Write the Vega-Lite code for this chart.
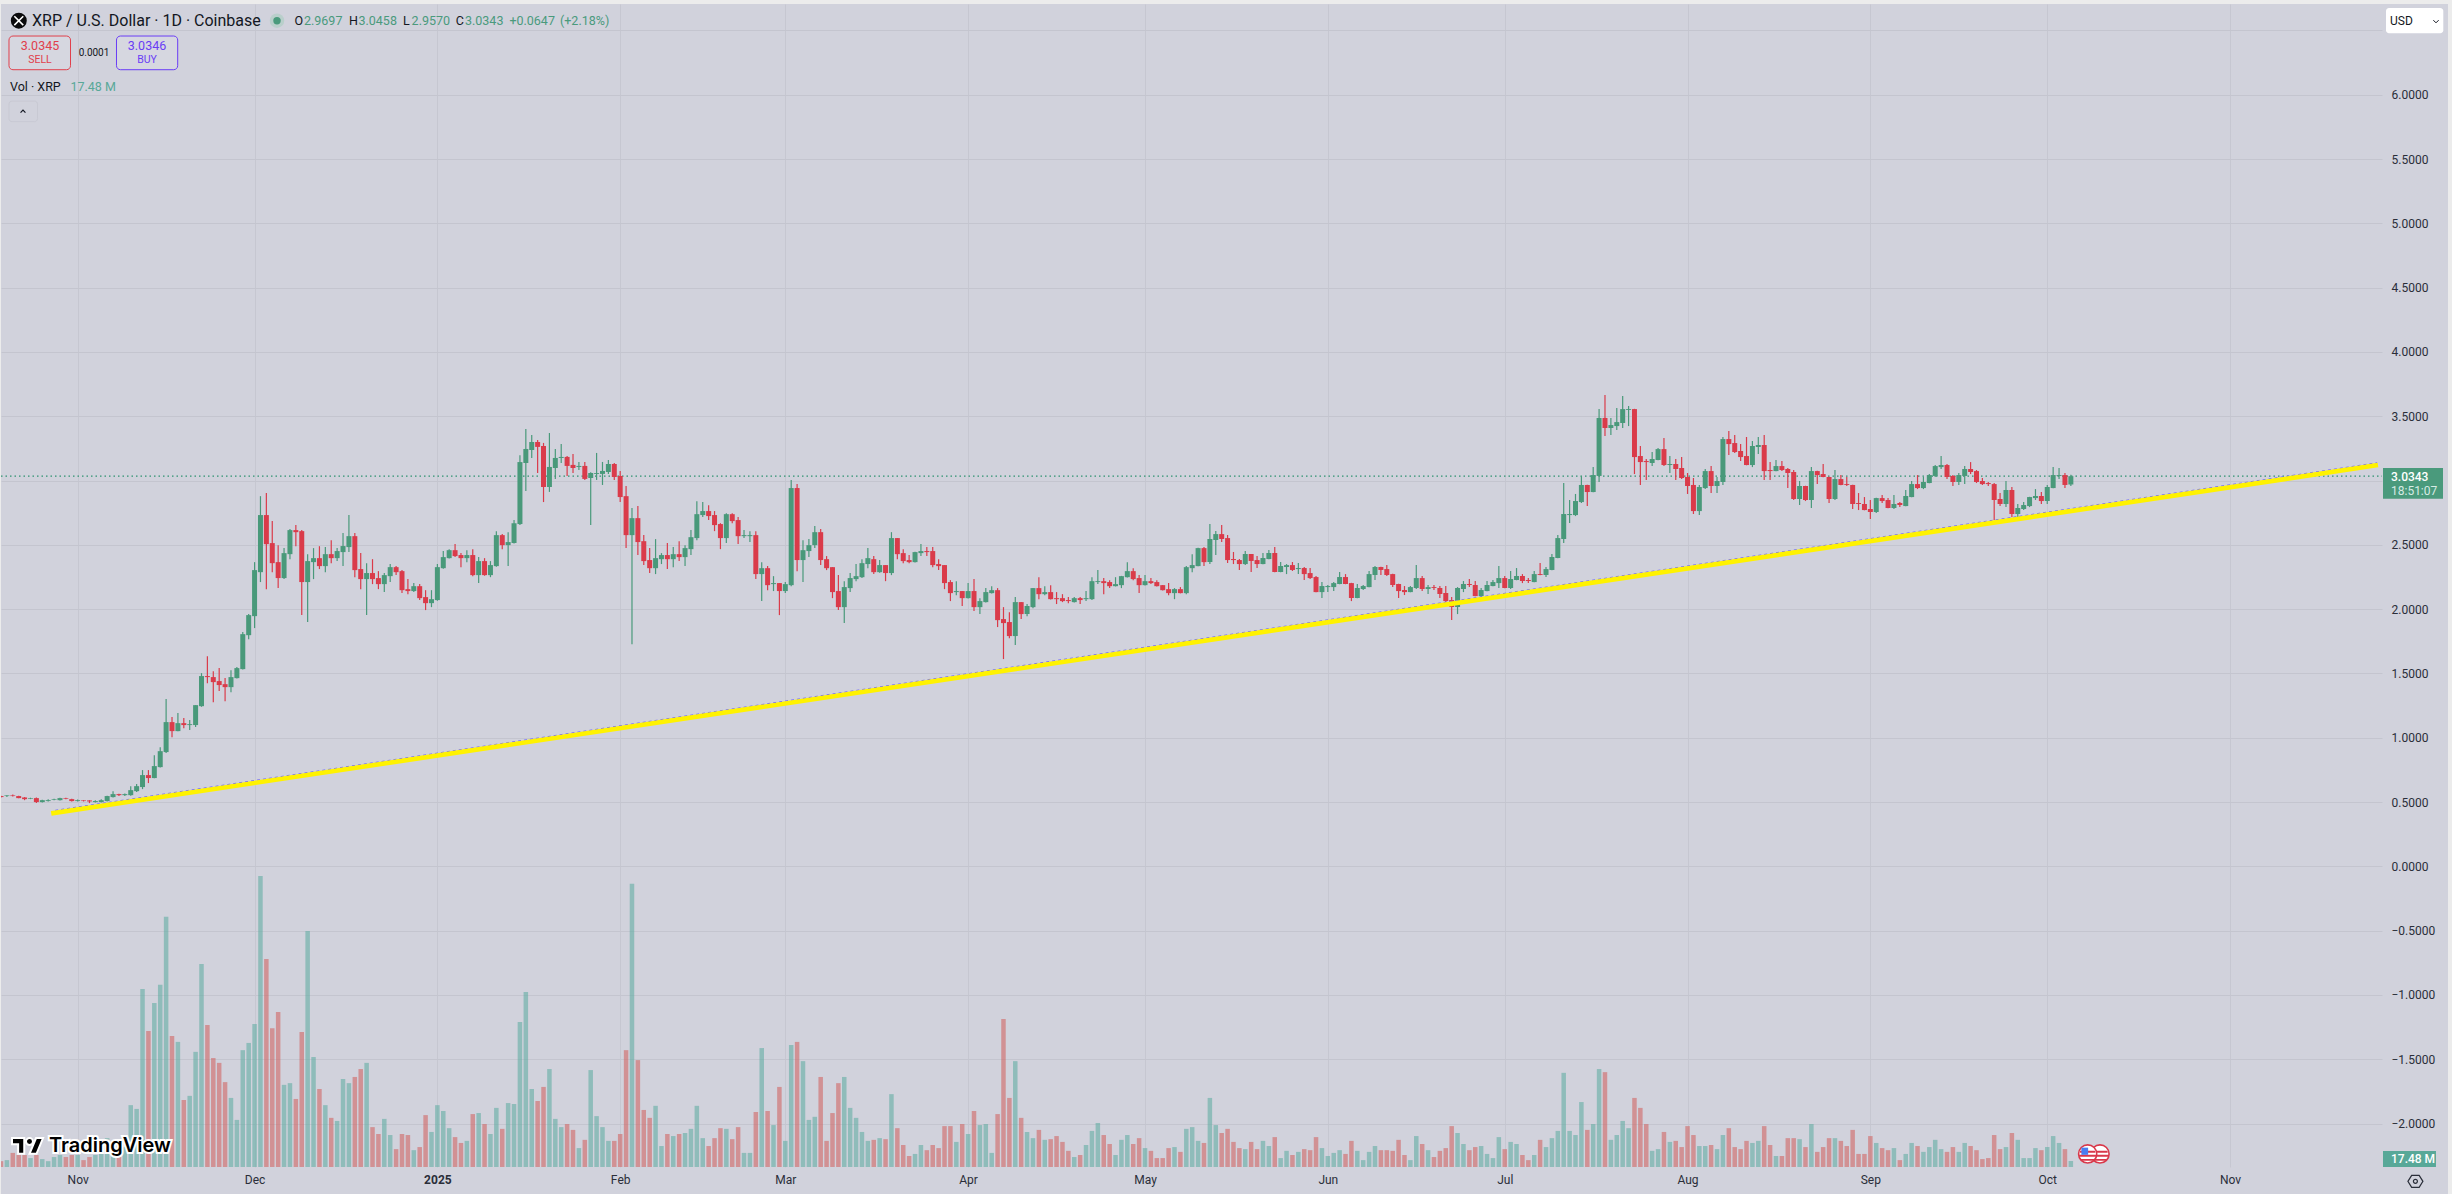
{
"$schema":"https://vega.github.io/schema/vega-lite/v6.json",
"description":"XRP / U.S. Dollar 1D candles with volume and a rising trendline",
"width":2381,"height":1163,
"autosize":{"type":"none"},
"padding":{"left":1,"top":4,"right":70,"bottom":27},
"background":"#d1d2dc",
"config":{"view":{"stroke":null},"font":"Roboto","text":{"font":"Roboto"}},
"datasets":{
"candles":[
{"t":"2024-10-19","o":0.547,"h":0.549,"l":0.535,"c":0.539,"v":17},
{"t":"2024-10-20","o":0.547,"h":0.554,"l":0.539,"c":0.552,"v":20},
{"t":"2024-10-21","o":0.552,"h":0.559,"l":0.544,"c":0.547,"v":41},
{"t":"2024-10-22","o":0.547,"h":0.549,"l":0.529,"c":0.531,"v":35},
{"t":"2024-10-23","o":0.536,"h":0.539,"l":0.515,"c":0.523,"v":35},
{"t":"2024-10-24","o":0.526,"h":0.534,"l":0.523,"c":0.531,"v":26},
{"t":"2024-10-25","o":0.531,"h":0.536,"l":0.492,"c":0.5,"v":35},
{"t":"2024-10-26","o":0.5,"h":0.518,"l":0.497,"c":0.515,"v":23},
{"t":"2024-10-27","o":0.508,"h":0.523,"l":0.505,"c":0.515,"v":17},
{"t":"2024-10-28","o":0.518,"h":0.526,"l":0.515,"c":0.523,"v":29},
{"t":"2024-10-29","o":0.515,"h":0.534,"l":0.513,"c":0.531,"v":35},
{"t":"2024-10-30","o":0.531,"h":0.534,"l":0.523,"c":0.526,"v":29},
{"t":"2024-10-31","o":0.523,"h":0.526,"l":0.505,"c":0.508,"v":35},
{"t":"2024-11-01","o":0.508,"h":0.521,"l":0.505,"c":0.515,"v":35},
{"t":"2024-11-02","o":0.513,"h":0.515,"l":0.505,"c":0.508,"v":20},
{"t":"2024-11-03","o":0.513,"h":0.515,"l":0.492,"c":0.505,"v":29},
{"t":"2024-11-04","o":0.5,"h":0.515,"l":0.497,"c":0.508,"v":35},
{"t":"2024-11-05","o":0.5,"h":0.523,"l":0.497,"c":0.515,"v":41},
{"t":"2024-11-06","o":0.508,"h":0.549,"l":0.505,"c":0.547,"v":84},
{"t":"2024-11-07","o":0.539,"h":0.585,"l":0.536,"c":0.562,"v":58},
{"t":"2024-11-08","o":0.562,"h":0.565,"l":0.547,"c":0.554,"v":29},
{"t":"2024-11-09","o":0.554,"h":0.567,"l":0.547,"c":0.562,"v":58},
{"t":"2024-11-10","o":0.554,"h":0.624,"l":0.549,"c":0.593,"v":180},
{"t":"2024-11-11","o":0.585,"h":0.64,"l":0.578,"c":0.624,"v":169},
{"t":"2024-11-12","o":0.617,"h":0.749,"l":0.601,"c":0.71,"v":518},
{"t":"2024-11-13","o":0.71,"h":0.749,"l":0.648,"c":0.687,"v":396},
{"t":"2024-11-14","o":0.687,"h":0.865,"l":0.685,"c":0.78,"v":477},
{"t":"2024-11-15","o":0.772,"h":0.927,"l":0.769,"c":0.896,"v":530},
{"t":"2024-11-16","o":0.889,"h":1.301,"l":0.881,"c":1.122,"v":728},
{"t":"2024-11-17","o":1.122,"h":1.161,"l":1.005,"c":1.052,"v":381},
{"t":"2024-11-18","o":1.052,"h":1.192,"l":1.05,"c":1.114,"v":364},
{"t":"2024-11-19","o":1.114,"h":1.153,"l":1.075,"c":1.099,"v":195},
{"t":"2024-11-20","o":1.099,"h":1.138,"l":1.06,"c":1.106,"v":207},
{"t":"2024-11-21","o":1.099,"h":1.254,"l":1.083,"c":1.254,"v":335},
{"t":"2024-11-22","o":1.246,"h":1.503,"l":1.241,"c":1.48,"v":591},
{"t":"2024-11-23","o":1.48,"h":1.635,"l":1.425,"c":1.472,"v":413},
{"t":"2024-11-24","o":1.472,"h":1.518,"l":1.277,"c":1.433,"v":317},
{"t":"2024-11-25","o":1.441,"h":1.542,"l":1.363,"c":1.41,"v":303},
{"t":"2024-11-26","o":1.417,"h":1.464,"l":1.285,"c":1.394,"v":247},
{"t":"2024-11-27","o":1.394,"h":1.526,"l":1.355,"c":1.472,"v":201},
{"t":"2024-11-28","o":1.464,"h":1.55,"l":1.461,"c":1.542,"v":137},
{"t":"2024-11-29","o":1.534,"h":1.822,"l":1.531,"c":1.806,"v":340},
{"t":"2024-11-30","o":1.798,"h":1.962,"l":1.767,"c":1.954,"v":361},
{"t":"2024-12-01","o":1.946,"h":2.366,"l":1.853,"c":2.304,"v":416},
{"t":"2024-12-02","o":2.288,"h":2.879,"l":2.211,"c":2.732,"v":847},
{"t":"2024-12-03","o":2.732,"h":2.903,"l":2.156,"c":2.506,"v":605},
{"t":"2024-12-04","o":2.514,"h":2.685,"l":2.288,"c":2.358,"v":404},
{"t":"2024-12-05","o":2.366,"h":2.498,"l":2.164,"c":2.242,"v":451},
{"t":"2024-12-06","o":2.242,"h":2.475,"l":2.234,"c":2.436,"v":239},
{"t":"2024-12-07","o":2.428,"h":2.623,"l":2.389,"c":2.615,"v":244},
{"t":"2024-12-08","o":2.615,"h":2.654,"l":2.49,"c":2.599,"v":198},
{"t":"2024-12-09","o":2.607,"h":2.615,"l":1.954,"c":2.211,"v":393},
{"t":"2024-12-10","o":2.211,"h":2.428,"l":1.9,"c":2.374,"v":687},
{"t":"2024-12-11","o":2.366,"h":2.475,"l":2.234,"c":2.397,"v":320},
{"t":"2024-12-12","o":2.397,"h":2.49,"l":2.312,"c":2.335,"v":227},
{"t":"2024-12-13","o":2.335,"h":2.483,"l":2.288,"c":2.428,"v":180},
{"t":"2024-12-14","o":2.428,"h":2.537,"l":2.358,"c":2.397,"v":143},
{"t":"2024-12-15","o":2.397,"h":2.475,"l":2.374,"c":2.452,"v":134},
{"t":"2024-12-16","o":2.444,"h":2.592,"l":2.335,"c":2.491,"v":256},
{"t":"2024-12-17","o":2.483,"h":2.732,"l":2.444,"c":2.568,"v":244},
{"t":"2024-12-18","o":2.568,"h":2.592,"l":2.249,"c":2.304,"v":262},
{"t":"2024-12-19","o":2.312,"h":2.436,"l":2.156,"c":2.234,"v":285},
{"t":"2024-12-20","o":2.234,"h":2.358,"l":1.954,"c":2.281,"v":303},
{"t":"2024-12-21","o":2.281,"h":2.389,"l":2.195,"c":2.234,"v":116},
{"t":"2024-12-22","o":2.242,"h":2.296,"l":2.156,"c":2.195,"v":96},
{"t":"2024-12-23","o":2.195,"h":2.281,"l":2.133,"c":2.265,"v":140},
{"t":"2024-12-24","o":2.257,"h":2.351,"l":2.211,"c":2.327,"v":93},
{"t":"2024-12-25","o":2.327,"h":2.335,"l":2.265,"c":2.288,"v":52},
{"t":"2024-12-26","o":2.296,"h":2.304,"l":2.125,"c":2.148,"v":96},
{"t":"2024-12-27","o":2.156,"h":2.234,"l":2.117,"c":2.141,"v":93},
{"t":"2024-12-28","o":2.141,"h":2.203,"l":2.133,"c":2.179,"v":49},
{"t":"2024-12-29","o":2.179,"h":2.195,"l":2.071,"c":2.086,"v":58},
{"t":"2024-12-30","o":2.094,"h":2.148,"l":1.993,"c":2.047,"v":151},
{"t":"2024-12-31","o":2.047,"h":2.148,"l":2.016,"c":2.078,"v":102},
{"t":"2025-01-01","o":2.071,"h":2.351,"l":2.065,"c":2.327,"v":180},
{"t":"2025-01-02","o":2.319,"h":2.452,"l":2.315,"c":2.405,"v":163},
{"t":"2025-01-03","o":2.397,"h":2.467,"l":2.394,"c":2.459,"v":113},
{"t":"2025-01-04","o":2.459,"h":2.506,"l":2.405,"c":2.413,"v":87},
{"t":"2025-01-05","o":2.421,"h":2.436,"l":2.327,"c":2.397,"v":70},
{"t":"2025-01-06","o":2.397,"h":2.459,"l":2.366,"c":2.421,"v":76},
{"t":"2025-01-07","o":2.421,"h":2.467,"l":2.257,"c":2.265,"v":154},
{"t":"2025-01-08","o":2.265,"h":2.405,"l":2.203,"c":2.374,"v":157},
{"t":"2025-01-09","o":2.374,"h":2.397,"l":2.26,"c":2.265,"v":125},
{"t":"2025-01-10","o":2.265,"h":2.374,"l":2.249,"c":2.343,"v":96},
{"t":"2025-01-11","o":2.335,"h":2.607,"l":2.33,"c":2.576,"v":172},
{"t":"2025-01-12","o":2.576,"h":2.584,"l":2.467,"c":2.498,"v":111},
{"t":"2025-01-13","o":2.498,"h":2.599,"l":2.335,"c":2.522,"v":186},
{"t":"2025-01-14","o":2.514,"h":2.693,"l":2.51,"c":2.669,"v":183},
{"t":"2025-01-15","o":2.662,"h":3.198,"l":2.654,"c":3.144,"v":422},
{"t":"2025-01-16","o":3.137,"h":3.402,"l":2.919,"c":3.246,"v":509},
{"t":"2025-01-17","o":3.238,"h":3.355,"l":3.176,"c":3.3,"v":227},
{"t":"2025-01-18","o":3.3,"h":3.316,"l":3.059,"c":3.262,"v":192},
{"t":"2025-01-19","o":3.269,"h":3.293,"l":2.833,"c":2.95,"v":233},
{"t":"2025-01-20","o":2.95,"h":3.37,"l":2.912,"c":3.106,"v":285},
{"t":"2025-01-21","o":3.098,"h":3.246,"l":3.013,"c":3.176,"v":140},
{"t":"2025-01-22","o":3.176,"h":3.285,"l":3.137,"c":3.184,"v":116},
{"t":"2025-01-23","o":3.184,"h":3.192,"l":3.036,"c":3.114,"v":125},
{"t":"2025-01-24","o":3.122,"h":3.207,"l":3.059,"c":3.098,"v":108},
{"t":"2025-01-25","o":3.106,"h":3.145,"l":3.083,"c":3.114,"v":55},
{"t":"2025-01-26","o":3.114,"h":3.145,"l":3.005,"c":3.013,"v":79},
{"t":"2025-01-27","o":3.02,"h":3.065,"l":2.654,"c":3.059,"v":282},
{"t":"2025-01-28","o":3.052,"h":3.215,"l":3.005,"c":3.059,"v":148},
{"t":"2025-01-29","o":3.052,"h":3.145,"l":2.966,"c":3.075,"v":116},
{"t":"2025-01-30","o":3.067,"h":3.16,"l":3.052,"c":3.129,"v":76},
{"t":"2025-01-31","o":3.129,"h":3.137,"l":3.005,"c":3.028,"v":76},
{"t":"2025-02-01","o":3.036,"h":3.075,"l":2.833,"c":2.872,"v":96},
{"t":"2025-02-02","o":2.879,"h":2.957,"l":2.475,"c":2.576,"v":340},
{"t":"2025-02-03","o":2.576,"h":2.786,"l":1.728,"c":2.708,"v":824},
{"t":"2025-02-04","o":2.708,"h":2.802,"l":2.421,"c":2.522,"v":311},
{"t":"2025-02-05","o":2.529,"h":2.576,"l":2.343,"c":2.374,"v":166},
{"t":"2025-02-06","o":2.382,"h":2.475,"l":2.281,"c":2.319,"v":143},
{"t":"2025-02-07","o":2.319,"h":2.545,"l":2.273,"c":2.397,"v":178},
{"t":"2025-02-08","o":2.389,"h":2.436,"l":2.351,"c":2.421,"v":61},
{"t":"2025-02-09","o":2.421,"h":2.514,"l":2.312,"c":2.389,"v":96},
{"t":"2025-02-10","o":2.389,"h":2.483,"l":2.327,"c":2.428,"v":90},
{"t":"2025-02-11","o":2.428,"h":2.529,"l":2.374,"c":2.405,"v":96},
{"t":"2025-02-12","o":2.405,"h":2.498,"l":2.335,"c":2.475,"v":99},
{"t":"2025-02-13","o":2.467,"h":2.615,"l":2.421,"c":2.56,"v":111},
{"t":"2025-02-14","o":2.553,"h":2.84,"l":2.537,"c":2.739,"v":178},
{"t":"2025-02-15","o":2.732,"h":2.833,"l":2.716,"c":2.763,"v":84},
{"t":"2025-02-16","o":2.763,"h":2.809,"l":2.693,"c":2.724,"v":61},
{"t":"2025-02-17","o":2.732,"h":2.763,"l":2.607,"c":2.654,"v":84},
{"t":"2025-02-18","o":2.662,"h":2.669,"l":2.467,"c":2.553,"v":113},
{"t":"2025-02-19","o":2.553,"h":2.747,"l":2.514,"c":2.739,"v":111},
{"t":"2025-02-20","o":2.739,"h":2.747,"l":2.669,"c":2.685,"v":81},
{"t":"2025-02-21","o":2.693,"h":2.716,"l":2.506,"c":2.568,"v":116},
{"t":"2025-02-22","o":2.568,"h":2.615,"l":2.553,"c":2.576,"v":41},
{"t":"2025-02-23","o":2.568,"h":2.607,"l":2.522,"c":2.576,"v":41},
{"t":"2025-02-24","o":2.576,"h":2.607,"l":2.234,"c":2.273,"v":160},
{"t":"2025-02-25","o":2.273,"h":2.366,"l":2.063,"c":2.319,"v":346},
{"t":"2025-02-26","o":2.319,"h":2.335,"l":2.148,"c":2.187,"v":163},
{"t":"2025-02-27","o":2.195,"h":2.257,"l":2.141,"c":2.203,"v":122},
{"t":"2025-02-28","o":2.203,"h":2.203,"l":1.954,"c":2.141,"v":233},
{"t":"2025-03-01","o":2.141,"h":2.211,"l":2.125,"c":2.195,"v":76},
{"t":"2025-03-02","o":2.187,"h":3.004,"l":2.179,"c":2.942,"v":355},
{"t":"2025-03-03","o":2.942,"h":2.973,"l":2.296,"c":2.382,"v":364},
{"t":"2025-03-04","o":2.382,"h":2.537,"l":2.211,"c":2.459,"v":308},
{"t":"2025-03-05","o":2.452,"h":2.545,"l":2.405,"c":2.498,"v":137},
{"t":"2025-03-06","o":2.498,"h":2.646,"l":2.475,"c":2.599,"v":146},
{"t":"2025-03-07","o":2.599,"h":2.623,"l":2.343,"c":2.382,"v":262},
{"t":"2025-03-08","o":2.389,"h":2.413,"l":2.304,"c":2.319,"v":76},
{"t":"2025-03-09","o":2.327,"h":2.327,"l":2.086,"c":2.133,"v":157},
{"t":"2025-03-10","o":2.141,"h":2.265,"l":1.993,"c":2.016,"v":244},
{"t":"2025-03-11","o":2.016,"h":2.218,"l":1.892,"c":2.172,"v":262},
{"t":"2025-03-12","o":2.164,"h":2.281,"l":2.133,"c":2.242,"v":172},
{"t":"2025-03-13","o":2.234,"h":2.351,"l":2.218,"c":2.257,"v":143},
{"t":"2025-03-14","o":2.249,"h":2.389,"l":2.242,"c":2.358,"v":102},
{"t":"2025-03-15","o":2.351,"h":2.475,"l":2.319,"c":2.397,"v":76},
{"t":"2025-03-16","o":2.389,"h":2.413,"l":2.273,"c":2.288,"v":79},
{"t":"2025-03-17","o":2.288,"h":2.382,"l":2.283,"c":2.343,"v":84},
{"t":"2025-03-18","o":2.343,"h":2.343,"l":2.218,"c":2.281,"v":81},
{"t":"2025-03-19","o":2.281,"h":2.599,"l":2.265,"c":2.553,"v":212},
{"t":"2025-03-20","o":2.553,"h":2.553,"l":2.389,"c":2.428,"v":113},
{"t":"2025-03-21","o":2.436,"h":2.467,"l":2.358,"c":2.374,"v":64},
{"t":"2025-03-22","o":2.382,"h":2.421,"l":2.358,"c":2.366,"v":32},
{"t":"2025-03-23","o":2.366,"h":2.446,"l":2.364,"c":2.444,"v":38},
{"t":"2025-03-24","o":2.436,"h":2.506,"l":2.413,"c":2.452,"v":64},
{"t":"2025-03-25","o":2.452,"h":2.483,"l":2.413,"c":2.444,"v":49},
{"t":"2025-03-26","o":2.452,"h":2.483,"l":2.327,"c":2.343,"v":64},
{"t":"2025-03-27","o":2.351,"h":2.389,"l":2.304,"c":2.335,"v":55},
{"t":"2025-03-28","o":2.343,"h":2.343,"l":2.156,"c":2.203,"v":119},
{"t":"2025-03-29","o":2.211,"h":2.226,"l":2.063,"c":2.125,"v":119},
{"t":"2025-03-30","o":2.133,"h":2.218,"l":2.109,"c":2.141,"v":73},
{"t":"2025-03-31","o":2.141,"h":2.141,"l":2.024,"c":2.086,"v":125},
{"t":"2025-04-01","o":2.086,"h":2.203,"l":2.084,"c":2.141,"v":96},
{"t":"2025-04-02","o":2.141,"h":2.234,"l":1.985,"c":2.016,"v":163},
{"t":"2025-04-03","o":2.016,"h":2.086,"l":1.962,"c":2.063,"v":122},
{"t":"2025-04-04","o":2.055,"h":2.164,"l":2.053,"c":2.133,"v":125},
{"t":"2025-04-05","o":2.125,"h":2.179,"l":2.123,"c":2.148,"v":41},
{"t":"2025-04-06","o":2.148,"h":2.164,"l":1.861,"c":1.915,"v":154},
{"t":"2025-04-07","o":1.923,"h":2.016,"l":1.612,"c":1.892,"v":431},
{"t":"2025-04-08","o":1.9,"h":1.977,"l":1.775,"c":1.791,"v":201},
{"t":"2025-04-09","o":1.791,"h":2.094,"l":1.721,"c":2.055,"v":308},
{"t":"2025-04-10","o":2.055,"h":2.055,"l":1.923,"c":1.962,"v":143},
{"t":"2025-04-11","o":1.962,"h":2.04,"l":1.946,"c":2.024,"v":102},
{"t":"2025-04-12","o":2.016,"h":2.164,"l":2.008,"c":2.164,"v":84},
{"t":"2025-04-13","o":2.164,"h":2.249,"l":2.078,"c":2.117,"v":108},
{"t":"2025-04-14","o":2.117,"h":2.179,"l":2.109,"c":2.133,"v":79},
{"t":"2025-04-15","o":2.133,"h":2.187,"l":2.076,"c":2.078,"v":81},
{"t":"2025-04-16","o":2.086,"h":2.133,"l":2.04,"c":2.078,"v":90},
{"t":"2025-04-17","o":2.086,"h":2.117,"l":2.055,"c":2.063,"v":73},
{"t":"2025-04-18","o":2.071,"h":2.094,"l":2.047,"c":2.063,"v":47},
{"t":"2025-04-19","o":2.055,"h":2.094,"l":2.053,"c":2.086,"v":29},
{"t":"2025-04-20","o":2.086,"h":2.094,"l":2.04,"c":2.071,"v":35},
{"t":"2025-04-21","o":2.078,"h":2.141,"l":2.063,"c":2.086,"v":64},
{"t":"2025-04-22","o":2.078,"h":2.249,"l":2.071,"c":2.218,"v":105},
{"t":"2025-04-23","o":2.211,"h":2.304,"l":2.195,"c":2.218,"v":128},
{"t":"2025-04-24","o":2.218,"h":2.242,"l":2.117,"c":2.203,"v":93},
{"t":"2025-04-25","o":2.211,"h":2.226,"l":2.164,"c":2.179,"v":67},
{"t":"2025-04-26","o":2.179,"h":2.249,"l":2.177,"c":2.195,"v":35},
{"t":"2025-04-27","o":2.187,"h":2.259,"l":2.164,"c":2.257,"v":79},
{"t":"2025-04-28","o":2.249,"h":2.366,"l":2.247,"c":2.296,"v":93},
{"t":"2025-04-29","o":2.296,"h":2.319,"l":2.226,"c":2.234,"v":67},
{"t":"2025-04-30","o":2.242,"h":2.265,"l":2.125,"c":2.187,"v":84},
{"t":"2025-05-01","o":2.187,"h":2.265,"l":2.185,"c":2.218,"v":55},
{"t":"2025-05-02","o":2.218,"h":2.242,"l":2.195,"c":2.203,"v":47},
{"t":"2025-05-03","o":2.211,"h":2.226,"l":2.177,"c":2.179,"v":26},
{"t":"2025-05-04","o":2.187,"h":2.189,"l":2.146,"c":2.148,"v":26},
{"t":"2025-05-05","o":2.156,"h":2.203,"l":2.109,"c":2.125,"v":55},
{"t":"2025-05-06","o":2.125,"h":2.164,"l":2.078,"c":2.156,"v":58},
{"t":"2025-05-07","o":2.156,"h":2.172,"l":2.123,"c":2.125,"v":44},
{"t":"2025-05-08","o":2.125,"h":2.335,"l":2.117,"c":2.327,"v":111},
{"t":"2025-05-09","o":2.319,"h":2.428,"l":2.288,"c":2.343,"v":116},
{"t":"2025-05-10","o":2.335,"h":2.477,"l":2.333,"c":2.475,"v":76},
{"t":"2025-05-11","o":2.475,"h":2.483,"l":2.335,"c":2.366,"v":70},
{"t":"2025-05-12","o":2.367,"h":2.662,"l":2.351,"c":2.546,"v":201},
{"t":"2025-05-13","o":2.538,"h":2.608,"l":2.421,"c":2.584,"v":122},
{"t":"2025-05-14","o":2.584,"h":2.654,"l":2.522,"c":2.546,"v":99},
{"t":"2025-05-15","o":2.553,"h":2.577,"l":2.359,"c":2.382,"v":111},
{"t":"2025-05-16","o":2.39,"h":2.445,"l":2.351,"c":2.382,"v":73},
{"t":"2025-05-17","o":2.382,"h":2.39,"l":2.305,"c":2.351,"v":55},
{"t":"2025-05-18","o":2.351,"h":2.452,"l":2.343,"c":2.429,"v":52},
{"t":"2025-05-19","o":2.429,"h":2.429,"l":2.289,"c":2.375,"v":73},
{"t":"2025-05-20","o":2.382,"h":2.413,"l":2.32,"c":2.351,"v":52},
{"t":"2025-05-21","o":2.351,"h":2.437,"l":2.349,"c":2.398,"v":76},
{"t":"2025-05-22","o":2.39,"h":2.46,"l":2.388,"c":2.437,"v":61},
{"t":"2025-05-23","o":2.437,"h":2.483,"l":2.287,"c":2.289,"v":87},
{"t":"2025-05-24","o":2.289,"h":2.367,"l":2.287,"c":2.336,"v":26},
{"t":"2025-05-25","o":2.328,"h":2.351,"l":2.273,"c":2.343,"v":47},
{"t":"2025-05-26","o":2.343,"h":2.367,"l":2.297,"c":2.305,"v":35},
{"t":"2025-05-27","o":2.312,"h":2.359,"l":2.273,"c":2.32,"v":44},
{"t":"2025-05-28","o":2.32,"h":2.328,"l":2.227,"c":2.273,"v":52},
{"t":"2025-05-29","o":2.281,"h":2.32,"l":2.235,"c":2.242,"v":49},
{"t":"2025-05-30","o":2.25,"h":2.258,"l":2.131,"c":2.133,"v":87},
{"t":"2025-05-31","o":2.133,"h":2.211,"l":2.087,"c":2.18,"v":55},
{"t":"2025-06-01","o":2.172,"h":2.188,"l":2.133,"c":2.18,"v":32},
{"t":"2025-06-02","o":2.172,"h":2.211,"l":2.141,"c":2.203,"v":41},
{"t":"2025-06-03","o":2.196,"h":2.289,"l":2.194,"c":2.25,"v":49},
{"t":"2025-06-04","o":2.25,"h":2.273,"l":2.194,"c":2.196,"v":38},
{"t":"2025-06-05","o":2.203,"h":2.205,"l":2.063,"c":2.087,"v":76},
{"t":"2025-06-06","o":2.087,"h":2.196,"l":2.085,"c":2.165,"v":47},
{"t":"2025-06-07","o":2.157,"h":2.188,"l":2.149,"c":2.18,"v":20},
{"t":"2025-06-08","o":2.172,"h":2.297,"l":2.17,"c":2.273,"v":44},
{"t":"2025-06-09","o":2.266,"h":2.336,"l":2.227,"c":2.328,"v":61},
{"t":"2025-06-10","o":2.328,"h":2.33,"l":2.266,"c":2.305,"v":49},
{"t":"2025-06-11","o":2.312,"h":2.343,"l":2.258,"c":2.266,"v":49},
{"t":"2025-06-12","o":2.273,"h":2.275,"l":2.172,"c":2.188,"v":47},
{"t":"2025-06-13","o":2.196,"h":2.198,"l":2.087,"c":2.141,"v":79},
{"t":"2025-06-14","o":2.149,"h":2.18,"l":2.11,"c":2.133,"v":35},
{"t":"2025-06-15","o":2.133,"h":2.18,"l":2.131,"c":2.172,"v":20},
{"t":"2025-06-16","o":2.165,"h":2.343,"l":2.157,"c":2.242,"v":90},
{"t":"2025-06-17","o":2.242,"h":2.258,"l":2.141,"c":2.157,"v":67},
{"t":"2025-06-18","o":2.157,"h":2.188,"l":2.118,"c":2.172,"v":49},
{"t":"2025-06-19","o":2.172,"h":2.188,"l":2.149,"c":2.165,"v":29},
{"t":"2025-06-20","o":2.165,"h":2.18,"l":2.087,"c":2.118,"v":47},
{"t":"2025-06-21","o":2.126,"h":2.18,"l":2.055,"c":2.063,"v":55},
{"t":"2025-06-22","o":2.071,"h":2.095,"l":1.916,"c":2.017,"v":119},
{"t":"2025-06-23","o":2.017,"h":2.172,"l":1.962,"c":2.165,"v":99},
{"t":"2025-06-24","o":2.157,"h":2.219,"l":2.133,"c":2.196,"v":67},
{"t":"2025-06-25","o":2.196,"h":2.235,"l":2.172,"c":2.188,"v":49},
{"t":"2025-06-26","o":2.188,"h":2.219,"l":2.1,"c":2.102,"v":58},
{"t":"2025-06-27","o":2.102,"h":2.165,"l":2.095,"c":2.149,"v":61},
{"t":"2025-06-28","o":2.141,"h":2.219,"l":2.139,"c":2.188,"v":38},
{"t":"2025-06-29","o":2.18,"h":2.227,"l":2.178,"c":2.211,"v":26},
{"t":"2025-06-30","o":2.203,"h":2.336,"l":2.165,"c":2.242,"v":87},
{"t":"2025-07-01","o":2.242,"h":2.258,"l":2.163,"c":2.165,"v":52},
{"t":"2025-07-02","o":2.165,"h":2.297,"l":2.157,"c":2.235,"v":73},
{"t":"2025-07-03","o":2.227,"h":2.32,"l":2.225,"c":2.258,"v":67},
{"t":"2025-07-04","o":2.258,"h":2.273,"l":2.203,"c":2.219,"v":35},
{"t":"2025-07-05","o":2.227,"h":2.242,"l":2.203,"c":2.219,"v":20},
{"t":"2025-07-06","o":2.211,"h":2.297,"l":2.209,"c":2.273,"v":35},
{"t":"2025-07-07","o":2.273,"h":2.359,"l":2.264,"c":2.266,"v":79},
{"t":"2025-07-08","o":2.266,"h":2.328,"l":2.25,"c":2.312,"v":58},
{"t":"2025-07-09","o":2.305,"h":2.429,"l":2.303,"c":2.406,"v":84},
{"t":"2025-07-10","o":2.398,"h":2.577,"l":2.396,"c":2.553,"v":105},
{"t":"2025-07-11","o":2.546,"h":2.981,"l":2.515,"c":2.74,"v":274},
{"t":"2025-07-12","o":2.732,"h":2.849,"l":2.67,"c":2.74,"v":105},
{"t":"2025-07-13","o":2.732,"h":2.896,"l":2.724,"c":2.841,"v":93},
{"t":"2025-07-14","o":2.833,"h":3.036,"l":2.826,"c":2.966,"v":189},
{"t":"2025-07-15","o":2.966,"h":2.968,"l":2.802,"c":2.911,"v":108},
{"t":"2025-07-16","o":2.911,"h":3.105,"l":2.909,"c":3.043,"v":125},
{"t":"2025-07-17","o":3.036,"h":3.557,"l":2.989,"c":3.487,"v":285},
{"t":"2025-07-18","o":3.487,"h":3.665,"l":3.347,"c":3.409,"v":276},
{"t":"2025-07-19","o":3.409,"h":3.487,"l":3.354,"c":3.432,"v":79},
{"t":"2025-07-20","o":3.424,"h":3.564,"l":3.393,"c":3.455,"v":93},
{"t":"2025-07-21","o":3.448,"h":3.658,"l":3.409,"c":3.556,"v":134},
{"t":"2025-07-22","o":3.549,"h":3.58,"l":3.424,"c":3.556,"v":113},
{"t":"2025-07-23","o":3.556,"h":3.558,"l":3.051,"c":3.183,"v":201},
{"t":"2025-07-24","o":3.191,"h":3.269,"l":2.966,"c":3.144,"v":172},
{"t":"2025-07-25","o":3.152,"h":3.168,"l":3.004,"c":3.144,"v":125},
{"t":"2025-07-26","o":3.137,"h":3.222,"l":3.113,"c":3.168,"v":47},
{"t":"2025-07-27","o":3.16,"h":3.253,"l":3.158,"c":3.245,"v":52},
{"t":"2025-07-28","o":3.245,"h":3.331,"l":3.113,"c":3.121,"v":102},
{"t":"2025-07-29","o":3.121,"h":3.191,"l":3.059,"c":3.129,"v":73},
{"t":"2025-07-30","o":3.129,"h":3.168,"l":3.004,"c":3.09,"v":76},
{"t":"2025-07-31","o":3.098,"h":3.183,"l":3.012,"c":3.02,"v":58},
{"t":"2025-08-01","o":3.028,"h":3.059,"l":2.896,"c":2.958,"v":119},
{"t":"2025-08-02","o":2.966,"h":3.02,"l":2.74,"c":2.763,"v":93},
{"t":"2025-08-03","o":2.763,"h":2.966,"l":2.732,"c":2.95,"v":61},
{"t":"2025-08-04","o":2.942,"h":3.09,"l":2.934,"c":3.074,"v":61},
{"t":"2025-08-05","o":3.074,"h":3.113,"l":2.903,"c":2.958,"v":64},
{"t":"2025-08-06","o":2.958,"h":3.028,"l":2.903,"c":2.997,"v":52},
{"t":"2025-08-07","o":2.989,"h":3.339,"l":2.966,"c":3.323,"v":93},
{"t":"2025-08-08","o":3.323,"h":3.385,"l":3.199,"c":3.284,"v":113},
{"t":"2025-08-09","o":3.292,"h":3.354,"l":3.214,"c":3.222,"v":58},
{"t":"2025-08-10","o":3.23,"h":3.284,"l":3.152,"c":3.183,"v":52},
{"t":"2025-08-11","o":3.191,"h":3.339,"l":3.119,"c":3.121,"v":76},
{"t":"2025-08-12","o":3.121,"h":3.308,"l":3.105,"c":3.269,"v":70},
{"t":"2025-08-13","o":3.261,"h":3.339,"l":3.207,"c":3.277,"v":76},
{"t":"2025-08-14","o":3.277,"h":3.354,"l":3.004,"c":3.074,"v":119},
{"t":"2025-08-15","o":3.082,"h":3.144,"l":3.004,"c":3.074,"v":64},
{"t":"2025-08-16","o":3.074,"h":3.16,"l":3.072,"c":3.113,"v":32},
{"t":"2025-08-17","o":3.113,"h":3.152,"l":3.074,"c":3.082,"v":32},
{"t":"2025-08-18","o":3.09,"h":3.098,"l":2.942,"c":3.059,"v":84},
{"t":"2025-08-19","o":3.067,"h":3.082,"l":2.849,"c":2.857,"v":84},
{"t":"2025-08-20","o":2.857,"h":2.997,"l":2.81,"c":2.958,"v":81},
{"t":"2025-08-21","o":2.958,"h":2.96,"l":2.841,"c":2.849,"v":58},
{"t":"2025-08-22","o":2.849,"h":3.105,"l":2.787,"c":3.074,"v":125},
{"t":"2025-08-23","o":3.074,"h":3.076,"l":2.973,"c":3.043,"v":44},
{"t":"2025-08-24","o":3.051,"h":3.129,"l":3.026,"c":3.028,"v":58},
{"t":"2025-08-25","o":3.028,"h":3.03,"l":2.826,"c":2.857,"v":84},
{"t":"2025-08-26","o":2.857,"h":3.082,"l":2.849,"c":3.012,"v":84},
{"t":"2025-08-27","o":3.012,"h":3.043,"l":2.964,"c":2.966,"v":76},
{"t":"2025-08-28","o":2.973,"h":3.028,"l":2.958,"c":2.966,"v":61},
{"t":"2025-08-29","o":2.966,"h":2.968,"l":2.779,"c":2.818,"v":108},
{"t":"2025-08-30","o":2.826,"h":2.903,"l":2.771,"c":2.818,"v":38},
{"t":"2025-08-31","o":2.818,"h":2.872,"l":2.769,"c":2.771,"v":38},
{"t":"2025-09-01","o":2.779,"h":2.849,"l":2.701,"c":2.756,"v":90},
{"t":"2025-09-02","o":2.756,"h":2.866,"l":2.748,"c":2.864,"v":70},
{"t":"2025-09-03","o":2.864,"h":2.888,"l":2.826,"c":2.841,"v":55},
{"t":"2025-09-04","o":2.849,"h":2.864,"l":2.785,"c":2.787,"v":49},
{"t":"2025-09-05","o":2.787,"h":2.888,"l":2.779,"c":2.818,"v":55},
{"t":"2025-09-06","o":2.826,"h":2.833,"l":2.794,"c":2.81,"v":20},
{"t":"2025-09-07","o":2.802,"h":2.927,"l":2.8,"c":2.88,"v":38},
{"t":"2025-09-08","o":2.872,"h":2.997,"l":2.87,"c":2.973,"v":70},
{"t":"2025-09-09","o":2.973,"h":3.043,"l":2.934,"c":2.942,"v":61},
{"t":"2025-09-10","o":2.942,"h":3.028,"l":2.934,"c":2.989,"v":44},
{"t":"2025-09-11","o":2.981,"h":3.051,"l":2.979,"c":3.043,"v":58},
{"t":"2025-09-12","o":3.036,"h":3.121,"l":3.028,"c":3.113,"v":79},
{"t":"2025-09-13","o":3.105,"h":3.191,"l":3.09,"c":3.121,"v":52},
{"t":"2025-09-14","o":3.121,"h":3.129,"l":3.012,"c":3.028,"v":44},
{"t":"2025-09-15","o":3.036,"h":3.043,"l":2.958,"c":2.989,"v":58},
{"t":"2025-09-16","o":2.989,"h":3.059,"l":2.966,"c":3.043,"v":44},
{"t":"2025-09-17","o":3.036,"h":3.113,"l":2.973,"c":3.09,"v":70},
{"t":"2025-09-18","o":3.09,"h":3.144,"l":3.051,"c":3.067,"v":61},
{"t":"2025-09-19","o":3.074,"h":3.082,"l":2.981,"c":2.989,"v":49},
{"t":"2025-09-20","o":2.997,"h":3.02,"l":2.966,"c":2.973,"v":23},
{"t":"2025-09-21","o":2.981,"h":2.989,"l":2.958,"c":2.973,"v":26},
{"t":"2025-09-22","o":2.973,"h":2.981,"l":2.693,"c":2.849,"v":93},
{"t":"2025-09-23","o":2.857,"h":2.903,"l":2.802,"c":2.818,"v":52},
{"t":"2025-09-24","o":2.818,"h":2.997,"l":2.794,"c":2.927,"v":58},
{"t":"2025-09-25","o":2.927,"h":2.95,"l":2.717,"c":2.74,"v":99},
{"t":"2025-09-26","o":2.74,"h":2.818,"l":2.717,"c":2.787,"v":79},
{"t":"2025-09-27","o":2.779,"h":2.833,"l":2.771,"c":2.81,"v":26},
{"t":"2025-09-28","o":2.802,"h":2.874,"l":2.794,"c":2.872,"v":26},
{"t":"2025-09-29","o":2.864,"h":2.934,"l":2.849,"c":2.88,"v":55},
{"t":"2025-09-30","o":2.88,"h":2.911,"l":2.818,"c":2.841,"v":49},
{"t":"2025-10-01","o":2.841,"h":2.966,"l":2.818,"c":2.95,"v":58},
{"t":"2025-10-02","o":2.942,"h":3.105,"l":2.94,"c":3.043,"v":90},
{"t":"2025-10-03","o":3.036,"h":3.098,"l":3.012,"c":3.043,"v":70},
{"t":"2025-10-04","o":3.043,"h":3.059,"l":2.942,"c":2.966,"v":52},
{"t":"2025-10-05","o":2.9697,"h":3.0458,"l":2.957,"c":3.0343,"v":17.48}
]
},
"encoding":{
"x":{"field":"t","type":"temporal","title":null,
"scale":{"type":"utc","domain":[1729296000000,1764181262000],"padding":0},
"axis":{"values":[1730419200000,1733011200000,1735689600000,1738368000000,1740787200000,1743465600000,1746057600000,1748736000000,1751328000000,1754006400000,1756684800000,1759276800000,1761955200000],
"labelExpr":"utcmonth(datum.value)==0 ? utcFormat(datum.value,'%Y') : utcFormat(datum.value,'%b')",
"labelFontWeight":{"condition":{"test":"utcmonth(datum.value)==0","value":"bold"},"value":"normal"},
"grid":true,"gridColor":"#c6c7d1","gridWidth":1,"domain":false,"ticks":false,"labelFont":"Roboto","labelFontSize":12,"labelColor":"#2a2e39","labelPadding":7,"title":null}}
},
"resolve":{"scale":{"y":"independent"}},
"layer":[
{"data":{"name":"candles"},
"mark":{"type":"bar","size":4.5,"opacity":0.6},
"encoding":{
"y":{"field":"v","type":"quantitative","stack":null,"axis":null,"scale":{"domain":[0,3384],"nice":false,"zero":true}},
"color":{"condition":{"test":"datum.o<datum.c","value":"#63ada3"},"value":"#d16664"}}},
{"encoding":{"y":{"field":"p","type":"quantitative","title":null,"scale":{"domain":[-2.3375,6.706],"nice":false,"zero":false},
"axis":{"orient":"right","values":[-2,-1.5,-1,-0.5,0,0.5,1,1.5,2,2.5,3,3.5,4,4.5,5,5.5,6,6.5],
"labelExpr":"datum.value>6.2 ? '' : format(datum.value,'.4f')",
"grid":true,"gridColor":"#c4c5cf","gridWidth":1.2,"domain":false,"ticks":false,"labelFont":"Roboto","labelFontSize":12,"labelColor":"#2a2e39","labelPadding":9,"title":null}}},
"layer":[
{"data":{"values":[{"t":1729296000000,"t2":1764181262000,"p":3.0343}]},
"mark":{"type":"rule","color":"#2f9270","strokeWidth":1.3,"strokeDash":[1.5,3]},
"encoding":{"x2":{"field":"t2"}}},
{"data":{"name":"candles"},
"mark":{"type":"rule","strokeWidth":1.2},
"encoding":{"y":{"field":"l"},"y2":{"field":"h"},
"color":{"condition":{"test":"datum.o<datum.c","value":"#49997a"},"value":"#da3b4a"}}},
{"data":{"name":"candles"},
"mark":{"type":"bar","size":5},
"encoding":{"y":{"field":"o"},"y2":{"field":"c"},
"color":{"condition":{"test":"datum.o<datum.c","value":"#49997a"},"value":"#da3b4a"}}},
{"data":{"values":[{"t":1730090000000,"p":0.436},{"t":1764110000000,"p":3.139}]},
"mark":{"type":"line","color":"#6f66ff","strokeWidth":1,"strokeDash":[3,3]}},
{"data":{"values":[{"t":1730064960000,"p":0.415},{"t":1764089280000,"p":3.118}]},
"mark":{"type":"line","color":"#fff200","strokeWidth":4.6,"strokeCap":"square"}},
{"data":{"values":[{"t":1764195900000,"t2":1765075000000,"p":3.098,"p2":2.859}]},
"mark":{"type":"rect","fill":"#4a9a7c"},"encoding":{"x2":{"field":"t2"},"y2":{"field":"p2"}}},
{"data":{"values":[{"t":1764195900000,"t2":1764972000000,"p":-2.213,"p2":-2.3375}]},
"mark":{"type":"rect","fill":"#58a898"},"encoding":{"x2":{"field":"t2"},"y2":{"field":"p2"}}},
{"data":{"values":[{"t":1764313000000,"p":3.03,"label":"3.0343"},{"t":1764313000000,"p":-2.278,"label":"17.48 M"}]},
"mark":{"type":"text","align":"left","baseline":"middle","fontSize":12,"fontWeight":500,"color":"#ffffff"},"encoding":{"text":{"field":"label"}}},
{"data":{"values":[{"t":1764313000000,"p":2.919,"label":"18:51:07"}]},
"mark":{"type":"text","align":"left","baseline":"middle","fontSize":12,"color":"#d7ebe4"},"encoding":{"text":{"field":"label"}}},
{"data":{"values":[{"t":1729296000000,"t2":1765206800000,"p":6.737,"p2":6.706},{"t":1765148200000,"t2":1765206800000,"p":6.737,"p2":-2.547},{"t":1729281350000,"t2":1729296000000,"p":6.737,"p2":-2.547}]},
"mark":{"type":"rect","fill":"#ececec"},"encoding":{"x2":{"field":"t2"},"y2":{"field":"p2"}}},
{"data":{"values":[{"t":1764239800000,"t2":1765079300000,"p":6.675,"p2":6.478}]},
"mark":{"type":"rect","fill":"#ffffff","cornerRadius":3},"encoding":{"x2":{"field":"t2"},"y2":{"field":"p2"}}},
{"data":{"values":[{"t":1764298400000,"p":6.576,"label":"USD"}]},
"mark":{"type":"text","align":"left","baseline":"middle","fontSize":12,"color":"#131722"},"encoding":{"text":{"field":"label"}}},
{"data":{"values":[{"t":1764972400000,"p":6.57}]},
"mark":{"type":"point","shape":"M-1,-0.5L0,0.5L1,-0.5","size":28,"fill":null,"filled":false,"stroke":"#131722","strokeWidth":1,"opacity":1}},
{"data":{"values":[{"t":1729556800000,"p":6.576}]},
"mark":{"type":"point","shape":"circle","size":254,"filled":true,"fill":"#0b0b0d","stroke":null,"opacity":1}},
{"data":{"values":[{"t":1729556800000,"p":6.576}]},
"mark":{"type":"point","shape":"M-1,-1L1,1M-1,1L1,-1","size":80,"filled":false,"stroke":"#ffffff","strokeWidth":1.6,"opacity":1}},
{"data":{"values":[{"t":1729750200000,"p":6.576,"label":"XRP / U.S. Dollar · 1D · Coinbase"}]},
"mark":{"type":"text","align":"left","baseline":"middle","fontSize":16,"color":"#131722"},"encoding":{"text":{"field":"label"}}},
{"data":{"values":[{"t":1733339800000,"p":6.576}]},
"mark":{"type":"point","shape":"circle","size":210,"filled":true,"fill":"#b9cfcb","stroke":null,"opacity":1}},
{"data":{"values":[{"t":1733339800000,"p":6.576}]},
"mark":{"type":"point","shape":"circle","size":55,"filled":true,"fill":"#4a9a7c","stroke":null,"opacity":1}},
{"data":{"values":[{"t":1733597700000,"p":6.576,"label":"O"},{"t":1734394700000,"p":6.576,"label":"H"},{"t":1735185900000,"p":6.576,"label":"L"},{"t":1735959500000,"p":6.576,"label":"C"}]},
"mark":{"type":"text","align":"left","baseline":"middle","fontSize":12.5,"color":"#131722"},"encoding":{"text":{"field":"label"}}},
{"data":{"values":[{"t":1733735400000,"p":6.576,"label":"2.9697"},{"t":1734533900000,"p":6.576,"label":"3.0458"},{"t":1735312000000,"p":6.576,"label":"2.9570"},{"t":1736094300000,"p":6.576,"label":"3.0343"},{"t":1736744800000,"p":6.576,"label":"+0.0647"},{"t":1737486200000,"p":6.576,"label":"(+2.18%)"}]},
"mark":{"type":"text","align":"left","baseline":"middle","fontSize":12.5,"color":"#4a9a7c"},"encoding":{"text":{"field":"label"}}},
{"data":{"values":[{"t":1729413200000,"t2":1730314300000,"p":6.457,"p2":6.195}]},
"mark":{"type":"rect","fill":"#d6d7e0","stroke":"#e0404c","strokeWidth":1,"cornerRadius":4},"encoding":{"x2":{"field":"t2"},"y2":{"field":"p2"}}},
{"data":{"values":[{"t":1730988200000,"t2":1731884900000,"p":6.457,"p2":6.195}]},
"mark":{"type":"rect","fill":"#d6d7e0","stroke":"#6a3df5","strokeWidth":1,"cornerRadius":4},"encoding":{"x2":{"field":"t2"},"y2":{"field":"p2"}}},
{"data":{"values":[{"t":1729867400000,"p":6.379,"label":"3.0345"}]},
"mark":{"type":"text","align":"center","baseline":"middle","fontSize":12.5,"color":"#e0404c"},"encoding":{"text":{"field":"label"}}},
{"data":{"values":[{"t":1729867400000,"p":6.271,"label":"SELL"}]},
"mark":{"type":"text","align":"center","baseline":"middle","fontSize":10.5,"color":"#e0404c"},"encoding":{"text":{"field":"label"}}},
{"data":{"values":[{"t":1731435100000,"p":6.379,"label":"3.0346"}]},
"mark":{"type":"text","align":"center","baseline":"middle","fontSize":12.5,"color":"#6a3df5"},"encoding":{"text":{"field":"label"}}},
{"data":{"values":[{"t":1731435100000,"p":6.271,"label":"BUY"}]},
"mark":{"type":"text","align":"center","baseline":"middle","fontSize":10.5,"color":"#6a3df5"},"encoding":{"text":{"field":"label"}}},
{"data":{"values":[{"t":1730658600000,"p":6.327,"label":"0.0001"}]},
"mark":{"type":"text","align":"center","baseline":"middle","fontSize":10,"color":"#131722"},"encoding":{"text":{"field":"label"}}},
{"data":{"values":[{"t":1729427900000,"p":6.063,"label":"Vol · XRP"}]},
"mark":{"type":"text","align":"left","baseline":"middle","fontSize":12.5,"color":"#131722"},"encoding":{"text":{"field":"label"}}},
{"data":{"values":[{"t":1730314300000,"p":6.063,"label":"17.48 M"}]},
"mark":{"type":"text","align":"left","baseline":"middle","fontSize":12.5,"color":"#58a898"},"encoding":{"text":{"field":"label"}}},
{"data":{"values":[{"t":1729413200000,"t2":1729830800000,"p":5.951,"p2":5.791}]},
"mark":{"type":"rect","fill":"#d1d2dc","stroke":"#c8c9d3","strokeWidth":1,"cornerRadius":3},"encoding":{"x2":{"field":"t2"},"y2":{"field":"p2"}}},
{"data":{"values":[{"t":1729618300000,"p":5.871}]},
"mark":{"type":"point","shape":"M-1,0.5L0,-0.5L1,0.5","size":24,"filled":false,"stroke":"#131722","strokeWidth":1.2,"opacity":1}},
{"data":{"values":[{"t":1729687900000,"p":-2.174}]},
"mark":{"type":"point","shape":"M-0.222,0.5L-0.611,0.5L-0.611,-0.111L-1,-0.111L-1,-0.5L-0.222,-0.5Z M0.556,0.5L0.111,0.5L0.528,-0.5L0.972,-0.5Z M-0.111,-0.278a0.222,0.222 0 1,0 0.444,0a0.222,0.222 0 1,0 -0.444,0Z","size":992,"filled":true,"fill":"#000000","stroke":"#ffffff","strokeWidth":2,"opacity":1}},
{"data":{"values":[{"t":1729999300000,"p":-2.174,"label":"TradingView"}]},
"mark":{"type":"text","align":"left","baseline":"middle","font":"Inter","fontSize":20,"fontWeight":600,"color":"#ffffff","stroke":"#ffffff","strokeWidth":4},"encoding":{"text":{"field":"label"}}},
{"data":{"values":[{"t":1729999300000,"p":-2.174,"label":"TradingView"}]},
"mark":{"type":"text","align":"left","baseline":"middle","font":"Inter","fontSize":20,"fontWeight":600,"color":"#000000"},"encoding":{"text":{"field":"label"}}},
{"data":{"values":[{"t":1760049500000,"p":-2.236}]},
"mark":{"type":"point","shape":"circle","size":330,"filled":true,"fill":"#ffffff","stroke":"#d9384a","strokeWidth":1.6,"opacity":1}},
{"data":{"values":[{"t":1760049500000,"p":-2.236}]},
"mark":{"type":"point","shape":"M-0.85,-0.35H0.85V-0.12H-0.85Z M-0.95,0.1H0.95V0.32H-0.95Z M-0.75,0.55H0.75V0.76H-0.75Z","size":324,"filled":true,"fill":"#d9384a","stroke":null,"opacity":1}},
{"data":{"values":[{"t":1759869000000,"p":-2.236}]},
"mark":{"type":"point","shape":"circle","size":330,"filled":true,"fill":"#ffffff","stroke":"#d9384a","strokeWidth":1.6,"opacity":1}},
{"data":{"values":[{"t":1759869000000,"p":-2.236}]},
"mark":{"type":"point","shape":"M-0.85,-0.35H0.85V-0.12H-0.85Z M-0.95,0.1H0.95V0.32H-0.95Z M-0.75,0.55H0.75V0.76H-0.75Z","size":324,"filled":true,"fill":"#d9384a","stroke":null,"opacity":1}},
{"data":{"values":[{"t":1759869000000,"p":-2.236}]},
"mark":{"type":"point","shape":"M-0.7,-0.7H0.05V0.1H-0.7Z","size":324,"filled":true,"fill":"#4a7df0","stroke":null,"opacity":1}},
{"data":{"values":[{"t":1764670800000,"p":-2.449}]},
"mark":{"type":"point","shape":"M-1,0L-0.5,-0.8H0.5L1,0L0.5,0.8H-0.5Z","size":225,"filled":false,"stroke":"#2a2e39","strokeWidth":1.2,"opacity":1}},
{"data":{"values":[{"t":1764670800000,"p":-2.449}]},
"mark":{"type":"point","shape":"circle","size":16,"filled":false,"stroke":"#2a2e39","strokeWidth":1.2,"opacity":1}}
]}
]
}
